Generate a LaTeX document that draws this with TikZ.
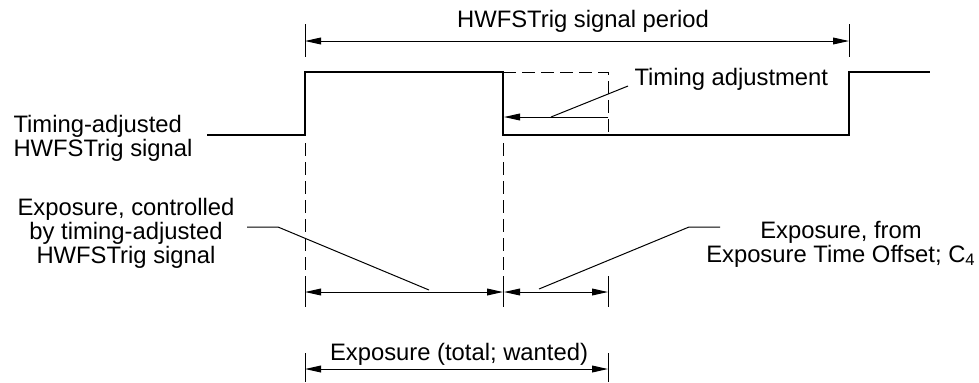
\documentclass[tikz,border=0pt]{standalone}
\usepackage{fontspec}
\setmainfont{Liberation Sans}
\usetikzlibrary{arrows.meta}

\begin{document}
\begin{tikzpicture}[
  x=0.5pt,y=-0.5pt,
  >={Triangle[length=8pt,width=3.4pt]},line width=0.5pt,
  sig/.style={line width=1pt,line join=miter},
  dim/.style={<->},
  guide/.style={dash pattern=on 6.5pt off 3pt},
  tick/.style={line width=0.5pt},
  lab/.style={font=\fontsize{11.9}{12}\selectfont,inner sep=0pt,align=center}
]
\useasboundingbox (0,0) rectangle (979,382);
% edges of the trigger pulse
\coordinate (rise) at (305,135);
\coordinate (fall) at (503,135);
\coordinate (late) at (608,135);
\coordinate (next) at (849,135);
% timing-adjusted signal
\draw[sig] (207,135) -- (rise) -- (305,72) -- (503,72) -- (fall) -- (next) -- (849,72) -- (930,72);
\draw[guide] (503,72) -- (608,72) -- (late);
% signal period
\draw[tick] (305,24) -- (305,57);
\draw[tick] (849,24) -- (849,57);
\draw[dim] (305,41) -- (849,41);
\node[lab,anchor=base] (period) at (583,27) {HWFSTrig signal period};
% timing adjustment
\coordinate (adjA) at (608,117);
\coordinate (adjB) at (504,117);
\draw[->] (adjA) -- (adjB);
\node[lab,anchor=base west] (adj) at (634,85) {Timing adjustment};
\draw (551,117) -- (628,86);
\node[lab,align=left,anchor=west] (siglab) at (13,138) {Timing-adjusted\\HWFSTrig signal};
% exposure guides
\draw[guide] (305,143) -- (305,270);
\draw[guide] (503,143) -- (503,270);
\draw[tick] (305,276) -- (305,307);
\draw[tick] (503,276) -- (503,307);
\draw[tick] (608,276) -- (608,307);
\draw[dim] (305,292) -- (503,292);
\draw[dim] (504,292) -- (608,292);
\node[lab] (ctrl) at (126,233) {Exposure, controlled\\by timing-adjusted\\HWFSTrig signal};
\node[lab] (offs) at (841,244) {Exposure, from\\Exposure Time Offset; C\textsubscript{4}};
\draw (247,227) -- (278,227) -- (429,290);
\draw (720,227) -- (689,227) -- (539,289);
% total exposure
\draw[tick] (305,353) -- (305,382);
\draw[tick] (608,353) -- (608,382);
\draw[dim] (305,369) -- (608,369);
\node[lab,anchor=base] (total) at (459,360) {Exposure (total; wanted)};
\end{tikzpicture}
\end{document}
